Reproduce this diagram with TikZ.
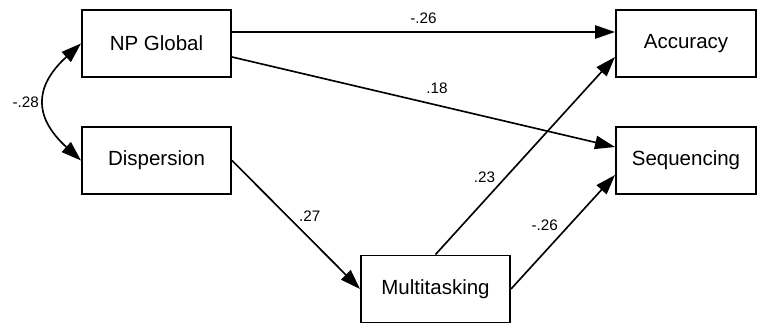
\documentclass[tikz,border=0pt]{standalone}
\usepackage{fontspec}
\setmainfont{Liberation Sans}
\usetikzlibrary{arrows.meta,positioning}

\begin{document}
\begin{tikzpicture}[x=1cm,y=1cm,
  box/.style={draw,line width=1.7pt,minimum width=4.47cm,minimum height=2.01cm,font=\fontsize{17.5}{21}\selectfont},
  link/.style={-{Triangle[length=0.6cm,width=0.4cm]},line width=1.4pt},
  coef/.style={font=\fontsize{13}{15.6}\selectfont,inner sep=2pt}]
  \useasboundingbox (0,0) rectangle (22.74,9.75);

  % predictors
  \node[box] (np) at (4.695,8.445) {NP Global};
  \node[box] (disp) at (4.695,4.935) {Dispersion};

  % mediator
  \node[box] (multi) at (13.065,1.08) {Multitasking};

  % outcomes
  \node[box,minimum width=4.2cm] (acc) at (20.58,8.445) {Accuracy};
  \node[box,minimum width=4.2cm] (seq) at (20.58,4.935) {Sequencing};

  % paths
  \draw[link] ([yshift=0.345cm]np.east) -- node[coef,above=4.5pt]{-.26} ([yshift=0.345cm]acc.west);
  \draw[link] ([yshift=-0.405cm]np.east) -- node[coef,pos=.535,above=7pt]{.18} ([yshift=0.405cm]seq.west);
  \draw[link] (disp.east) -- node[coef,pos=.5,above right]{.27} (multi.west);
  \draw[link] (multi.north) -- node[coef,pos=.35,above left]{.23} ([yshift=-0.405cm]acc.west);
  \draw[link] (multi.east) -- node[coef,pos=.48,above left]{-.26} ([yshift=-0.435cm]seq.west);

  % correlation
  \draw[{Triangle[length=0.6cm,width=0.4cm]}-{Triangle[length=0.6cm,width=0.4cm]},line width=1.4pt]
    (np.west) .. controls +(-1.42,-1.3) and +(-1.42,1.3) .. node[coef,left=3pt]{-.28} (disp.west);
\end{tikzpicture}
\end{document}
